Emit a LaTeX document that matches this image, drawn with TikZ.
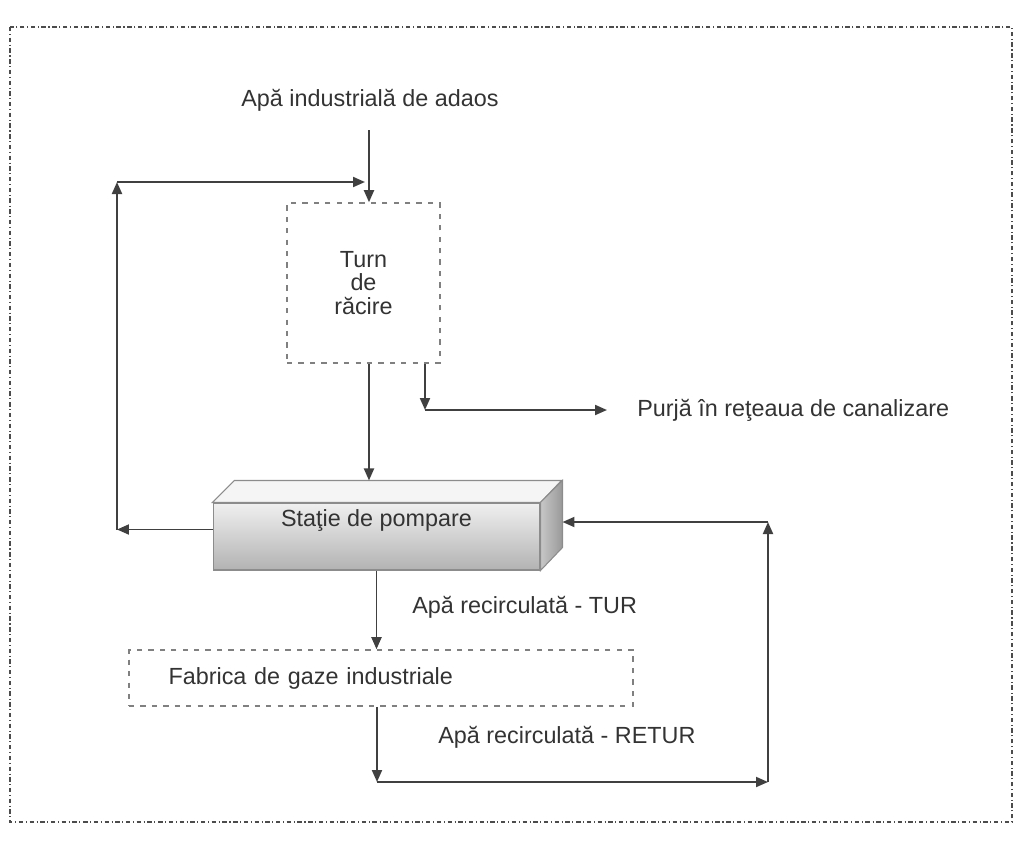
\documentclass[tikz,border=0pt]{standalone}
\usepackage{fontspec}
\setmainfont{Liberation Sans}
\usetikzlibrary{arrows.meta}

\begin{document}
\begin{tikzpicture}[x=0.02cm,y=-0.02cm,
  every node/.style={inner sep=0pt},
  lbl/.style={font=\fontsize{13.3}{13.3}\selectfont,text=black!80},
  flow/.style={draw=black!75,line width=1.1pt,-{Triangle[length=0.24cm,width=0.2cm]}},
  dashbox/.style={draw=black!50,line width=0.9pt,dash pattern=on 3pt off 3.5pt}]

\useasboundingbox (0,0) rectangle (1019,842);

% outer frame
\draw[black!70,line width=0.9pt,dash pattern=on 2.5pt off 1.5pt on 0.6pt off 1.5pt]
  (10,27) rectangle (1012,822);

% boxes
\node[lbl] (adaos) at (370,100) {Apă industrială de adaos};
\node[dashbox,lbl,minimum width=3.06cm,minimum height=3.2cm,align=center] (turn)
  at (363.5,283) {Turn\\de\\răcire};
\node[dashbox,lbl,minimum width=10.08cm,minimum height=1.12cm,text width=8.5cm,align=left] (fabrica)
  at (381,678) {Fabrica de gaze industriale};

% pump station, drawn as a block
\node[draw=black!45,line width=0.6pt,top color=black!6,bottom color=black!30,
  minimum width=6.54cm,minimum height=1.34cm] (pump) at (376.5,536.5) {};
\draw[draw=black!45,line width=0.6pt,fill=black!4]
  (pump.north west) -- ++(22,-22) -- ++(327,0) -- (pump.north east) -- cycle;
\draw[draw=black!45,line width=0.6pt,left color=black!22,right color=black!40]
  (pump.north east) -- ++(22,-22) -- ++(0,67) -- (pump.south east) -- cycle;
\node[lbl] (pumplabel) at ([yshift=0.32cm]pump.center) {Staţie de pompare};

% free ends and bends
\coordinate (in) at (369,130);
\coordinate (lt) at (117,182);
\coordinate (pb) at (425,410);
\coordinate (rb) at (377,782);
\coordinate (rr) at (768,782);
\coordinate (pumpL) at ([yshift=0.14cm]pump.west);
\coordinate (pumpR) at ([xshift=0.44cm,yshift=0.29cm]pump.east);
\coordinate (pumptop) at ([yshift=0.44cm]pump.north);

% make-up water and tower outlet
\draw[flow] (in) -- (in |- turn.north);
\draw[flow] (turn.south -| in) -- (pumptop -| in);

% purge
\node[lbl,anchor=west] (purje) at (637,410) {Purjă în reţeaua de canalizare};
\draw[flow] (turn.south -| pb) -- (pb);
\draw[flow,shorten >=0.6cm] (pb) -- (purje.west);

% bypass back to the tower
\draw[flow] (pumpL) -- (lt |- pumpL);
\draw[flow] (lt |- pumpL) -- (lt);
\draw[flow,shorten >=0.08cm] (lt) -- (lt -| in);

% tur
\draw[flow] (pump.south) -- (pump.south |- fabrica.north);
\node[lbl,anchor=west] (tur) at (412,607) {Apă recirculată - TUR};

% retur
\draw[flow] (fabrica.south -| rb) -- (rb);
\draw[flow] (rb) -- (rr);
\draw[flow] (rr) -- (rr |- pumpR);
\draw[flow] (rr |- pumpR) -- (pumpR);
\node[lbl,anchor=west] (retur) at (438,737) {Apă recirculată - RETUR};
\end{tikzpicture}
\end{document}
